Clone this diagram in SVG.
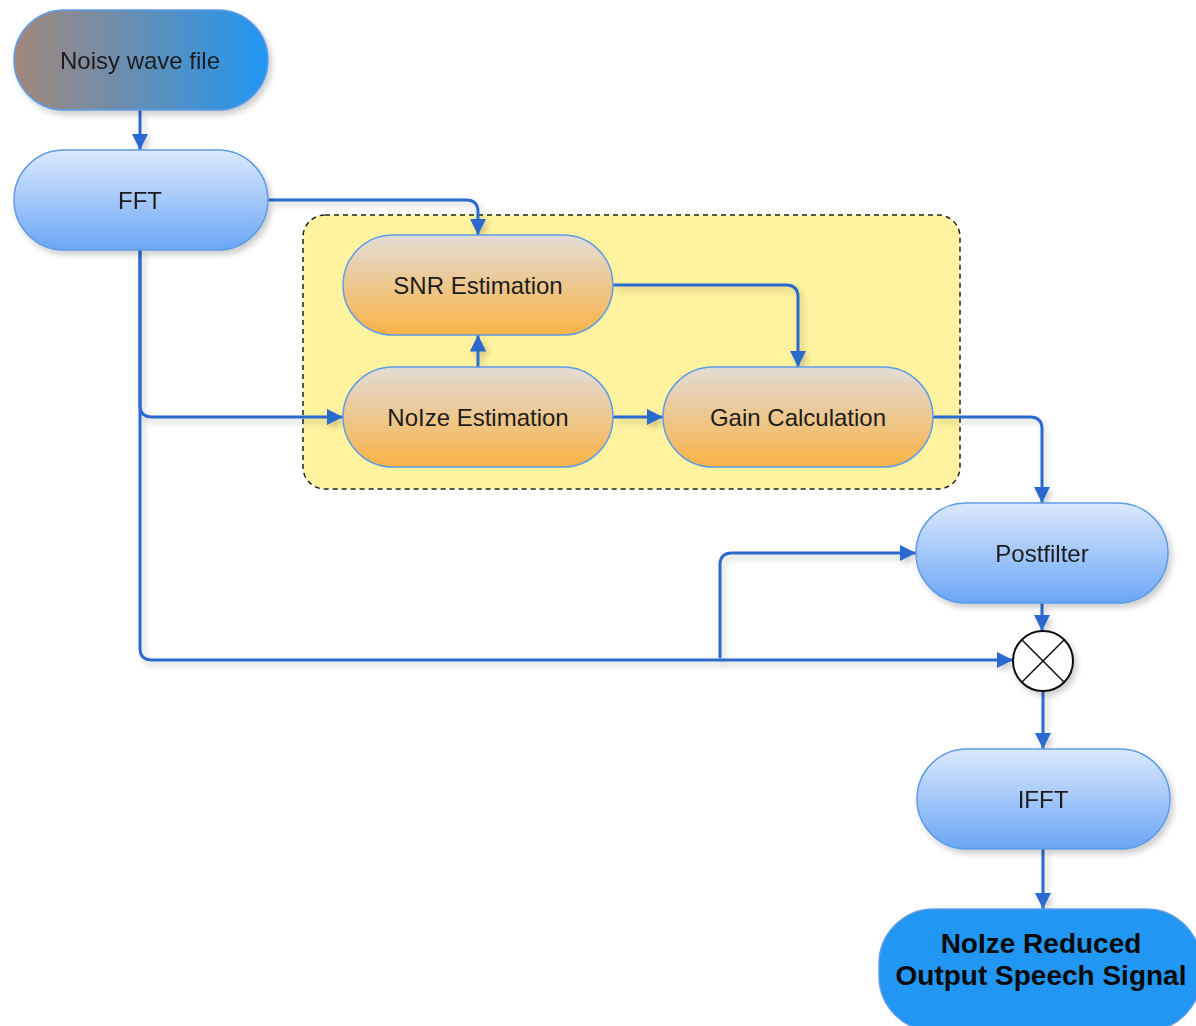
<svg xmlns="http://www.w3.org/2000/svg" width="1196" height="1026" viewBox="0 0 1196 1026">
<defs>
<linearGradient id="gIn" x1="0" y1="0" x2="1" y2="0"><stop offset="0" stop-color="#a3877a"/><stop offset="1" stop-color="#2196f3"/></linearGradient>
<linearGradient id="gBlue" x1="0" y1="0" x2="0" y2="1"><stop offset="0" stop-color="#dce9fc"/><stop offset="1" stop-color="#6aa6f6"/></linearGradient>
<linearGradient id="gOr" x1="0" y1="0" x2="0" y2="1"><stop offset="0" stop-color="#e2dcd6"/><stop offset="1" stop-color="#f9b246"/></linearGradient>
<filter id="sh" x="-20%" y="-20%" width="140%" height="160%"><feGaussianBlur in="SourceAlpha" stdDeviation="3"/><feOffset dx="3" dy="4"/><feComponentTransfer><feFuncA type="linear" slope="0.2"/></feComponentTransfer><feMerge><feMergeNode/><feMergeNode in="SourceGraphic"/></feMerge></filter>
<marker id="ar" viewBox="0 0 10 10" refX="10" refY="5" markerWidth="5.5" markerHeight="5.5" orient="auto" markerUnits="strokeWidth"><path d="M0,0 L10,5 L0,10 z" fill="#2c6bcf"/></marker>
</defs>
<style>
.lbl{font-family:"Liberation Sans",Arial,sans-serif;font-size:24px;fill:#1c1c1c;text-anchor:middle;dominant-baseline:central}
.bold{font-weight:bold;font-size:28px;fill:#0a0a0a}
.node{stroke:#5f9ce6;stroke-width:1.5}
.c{fill:none;stroke:#2c6bcf;stroke-width:3;marker-end:url(#ar)}
</style>
<rect width="1196" height="1026" fill="#ffffff"/>
<g id="group">
<rect x="303" y="215" width="657" height="274" rx="22" fill="#fff3a0" stroke="#222" stroke-width="1.5" stroke-dasharray="5,4"/>
</g>
<g id="connectors" filter="url(#sh)">
<path class="c" d="M140,110 V150"/>
<path class="c" d="M268,200 H466 Q478,200 478,212 V235"/>
<path class="c" d="M140,250 V405 Q140,417 152,417 H343"/>
<path class="c" d="M140,250 V648 Q140,660 152,660 H1013"/>
<path class="c" d="M478,367 V335"/>
<path class="c" d="M613,417 H663"/>
<path class="c" d="M613,285 H786 Q798,285 798,297 V367"/>
<path class="c" d="M933,417 H1030 Q1042,417 1042,429 V503"/>
<path class="c" d="M720,658 V565 Q720,553 732,553 H916"/>
<path class="c" d="M1042,603 V631"/>
<path class="c" d="M1043,691 V749"/>
<path class="c" d="M1043,849 V909"/>
</g>
<g id="n-input" filter="url(#sh)">
<rect class="node" x="14" y="10" width="254" height="100" rx="50" fill="url(#gIn)"/>
<text class="lbl" x="140" y="60">Noisy wave file</text>
</g>
<g id="n-fft" filter="url(#sh)">
<rect class="node" x="14" y="150" width="254" height="100" rx="50" fill="url(#gBlue)"/>
<text class="lbl" x="140" y="200">FFT</text>
</g>
<g id="n-snr">
<rect class="node" x="343" y="235" width="270" height="100" rx="50" fill="url(#gOr)"/>
<text class="lbl" x="478" y="285">SNR Estimation</text>
</g>
<g id="n-noise">
<rect class="node" x="343" y="367" width="270" height="100" rx="50" fill="url(#gOr)"/>
<text class="lbl" x="478" y="417">NoIze Estimation</text>
</g>
<g id="n-gain">
<rect class="node" x="663" y="367" width="270" height="100" rx="50" fill="url(#gOr)"/>
<text class="lbl" x="798" y="417">Gain Calculation</text>
</g>
<g id="n-post" filter="url(#sh)">
<rect class="node" x="916" y="503" width="252" height="100" rx="50" fill="url(#gBlue)"/>
<text class="lbl" x="1042" y="553">Postfilter</text>
</g>
<g id="n-mult" filter="url(#sh)">
<circle cx="1043" cy="661" r="30" fill="#ffffff" stroke="#111" stroke-width="2"/>
<path d="M1021.8,639.8 L1064.2,682.2 M1064.2,639.8 L1021.8,682.2" stroke="#111" stroke-width="1.5"/>
</g>
<g id="n-ifft" filter="url(#sh)">
<rect class="node" x="917" y="749" width="253" height="100" rx="50" fill="url(#gBlue)"/>
<text class="lbl" x="1043" y="799">IFFT</text>
</g>
<g id="n-output">
<rect class="node" x="879" y="909" width="322" height="122" rx="55" fill="#2196f3"/>
<text class="lbl bold" x="1041" y="943">NoIze Reduced</text>
<text class="lbl bold" x="1041" y="975">Output Speech Signal</text>
</g>
</svg>
